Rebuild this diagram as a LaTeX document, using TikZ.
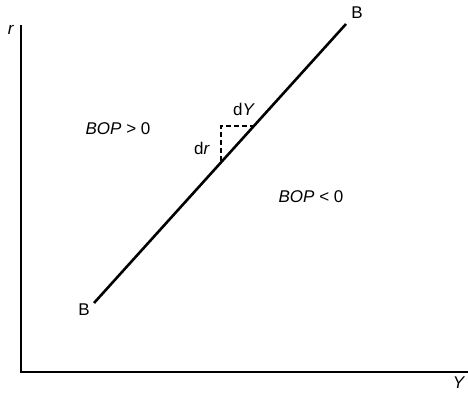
\documentclass[tikz,border=0pt]{standalone}
\usepackage{fontspec}
\setmainfont{Liberation Sans}
\usepackage{tikz}
\usetikzlibrary{calc}

\begin{document}
\begin{tikzpicture}[
    x=1pt, y=-1pt,
    font=\fontsize{17}{19}\selectfont,
    axis/.style={line width=1.4pt},
    bop/.style={line width=2.6pt},
    hint/.style={dash pattern=on 5pt off 3pt, line width=1.2pt}
  ]
    \useasboundingbox (0,0) rectangle (468,393);
    % axes
    \coordinate (O) at (21,372);
    \coordinate (ytop) at (21,25);
    \coordinate (xend) at (468,372);
    \draw[axis] (ytop) -- (O) -- (xend);
    \node (rlab) at (11,30) {\textit{r}};
    \node[anchor=north, inner sep=0pt] (Ylab) at (459,377) {\textit{Y}};
    % BOP line
    \coordinate (B1) at (94,303);
    \coordinate (B2) at (346,24);
    \draw[bop] (B1) -- (B2);
    \node (B1lab) at (84,310) {B};
    \node (B2lab) at (357,13) {B};
    % small triangle
    \coordinate (corner) at (221,126);
    \coordinate (hend) at (253,126);
    \coordinate (vend) at (221,161);
    \draw[hint] (vend) -- (corner) -- (hend);
    \node (dY) at (244,109) {d\textit{Y}};
    \node (dr) at (202,148) {d\textit{r}};
    % regions
    \node (above) at (118,129) {\textit{BOP} > 0};
    \node (below) at (311,197) {\textit{BOP} < 0};
  \end{tikzpicture}
\end{document}
